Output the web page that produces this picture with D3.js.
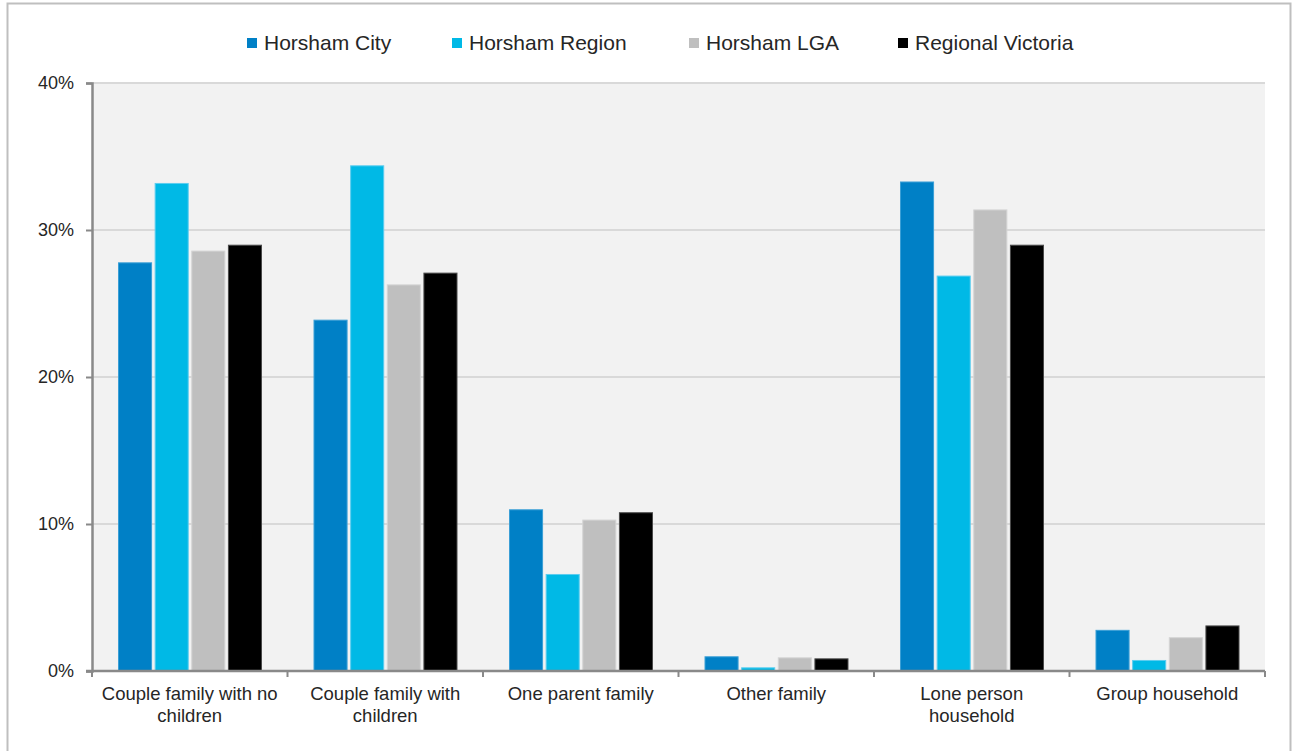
<!DOCTYPE html>
<html>
<head>
<meta charset="utf-8">
<script src="https://cdn.jsdelivr.net/npm/d3@7"></script>
<style>
  body { margin: 0; background: #fff; }
  text { font-family: "Liberation Sans", Arial, sans-serif; fill: #262626; }
</style>
</head>
<body>
<svg id="chart" width="1298" height="751"></svg>
<script>
// data
var categories = ["Couple family with no children", "Couple family with children", "One parent family",
                  "Other family", "Lone person household", "Group household"];
var series = ["Horsham City", "Horsham Region", "Horsham LGA", "Regional Victoria"];
var horshamCity = [27.8, 23.9, 11.0, 1.0, 33.3, 2.8];
var horshamRegion = [33.2, 34.4, 6.6, 0.25, 26.9, 0.75];
var horshamLGA = [28.6, 26.3, 10.3, 0.93, 31.4, 2.3];
var regionalVictoria = [29.0, 27.1, 10.8, 0.86, 29.0, 3.1];
var yTicks = [0, 10, 20, 30, 40];

var values = [horshamCity, horshamRegion, horshamLGA, regionalVictoria];
var fills = ["#0080c6", "#00b9e6", "#bfbfbf", "#000000"];
var strokes = ["#3b9fd6", "#5ccdef", "#d4d4d4", "#4a4a4a"];

var svg = d3.select("#chart");

// outer frame
svg.append("path")
    .attr("d", "M 7.5 760 V 3.5 H 1290.5 V 760")
    .attr("fill", "none")
    .attr("stroke", "#bfbfbf")
    .attr("stroke-width", 2);

var plotLeft = 92, plotRight = 1265, plotTop = 83, plotBottom = 671;

var x0 = d3.scaleBand().domain(categories).range([plotLeft, plotRight]);
var x1 = d3.scaleBand().domain(series).range([26, 170]).paddingInner(0.07);
var y = d3.scaleLinear().domain([0, 40]).range([plotBottom, plotTop]);

// plot background
svg.append("rect")
    .attr("x", plotLeft)
    .attr("y", plotTop)
    .attr("width", plotRight - plotLeft)
    .attr("height", plotBottom - plotTop)
    .attr("fill", "#f2f2f2");

// gridlines
svg.append("g")
    .selectAll("line")
    .data(yTicks.slice(1))
    .join("line")
    .attr("x1", plotLeft)
    .attr("x2", plotRight)
    .attr("y1", d => y(d))
    .attr("y2", d => y(d))
    .attr("stroke", "#d9d9d9")
    .attr("stroke-width", 2);

// bars
var groups = svg.append("g")
    .selectAll("g")
    .data(categories)
    .join("g")
    .attr("transform", d => "translate(" + x0(d) + ",0)");

groups.selectAll("rect")
    .data((c, ci) => series.map((s, si) => ({ s: s, si: si, v: values[si][ci] })))
    .join("rect")
    .attr("x", d => x1(d.s) + 0.5)
    .attr("y", d => y(d.v) + 0.5)
    .attr("width", x1.bandwidth() - 1)
    .attr("height", d => plotBottom - y(d.v) - 0.5)
    .attr("fill", d => fills[d.si])
    .attr("stroke", d => strokes[d.si])
    .attr("stroke-width", 1);

// y axis
var yAxis = svg.append("g")
    .attr("transform", "translate(" + plotLeft + ",0)")
    .call(d3.axisLeft(y).tickValues(yTicks).tickFormat(d => d + "%").tickSize(6).tickPadding(12));
yAxis.select(".domain").attr("stroke", "#898989").attr("stroke-width", 2.5);
yAxis.selectAll(".tick line").attr("stroke", "#898989").attr("stroke-width", 2);
yAxis.selectAll(".tick text")
    .attr("font-size", 18)
    .attr("font-family", "Liberation Sans, Arial, sans-serif")
    .attr("fill", "#262626");

// x axis
var xAxis = svg.append("g")
    .attr("transform", "translate(0," + plotBottom + ")");
xAxis.append("line")
    .attr("x1", plotLeft - 6)
    .attr("x2", plotRight)
    .attr("stroke", "#898989")
    .attr("stroke-width", 2.5);
xAxis.selectAll(".xtick")
    .data(categories.map(c => x0(c)).concat([plotRight]))
    .join("line")
    .attr("class", "xtick")
    .attr("x1", d => d)
    .attr("x2", d => d)
    .attr("y1", 0)
    .attr("y2", 6)
    .attr("stroke", "#898989")
    .attr("stroke-width", 2);

var wrapped = {
  "Couple family with no children": ["Couple family with no", "children"],
  "Couple family with children": ["Couple family with", "children"],
  "Lone person household": ["Lone person", "household"]
};
var labels = xAxis.selectAll(".xlabel")
    .data(categories)
    .join("text")
    .attr("class", "xlabel")
    .attr("text-anchor", "middle")
    .attr("font-size", 18.5)
    .attr("x", d => x0(d) + x0.bandwidth() / 2)
    .attr("y", 29);
labels.selectAll("tspan")
    .data(d => wrapped[d] || [d])
    .join("tspan")
    .attr("x", function () { return d3.select(this.parentNode).attr("x"); })
    .attr("dy", (d, i) => i === 0 ? 0 : 22)
    .text(d => d);

// legend
var legendX = [247, 452, 689, 898];
var legend = svg.append("g")
    .selectAll("g")
    .data(series)
    .join("g")
    .attr("transform", (d, i) => "translate(" + legendX[i] + ",38)");
legend.append("rect")
    .attr("width", 10)
    .attr("height", 10)
    .attr("fill", (d, i) => fills[i]);
legend.append("text")
    .attr("x", 17)
    .attr("y", 12)
    .attr("font-size", 21)
    .text(d => d);
</script>
</body>
</html>
